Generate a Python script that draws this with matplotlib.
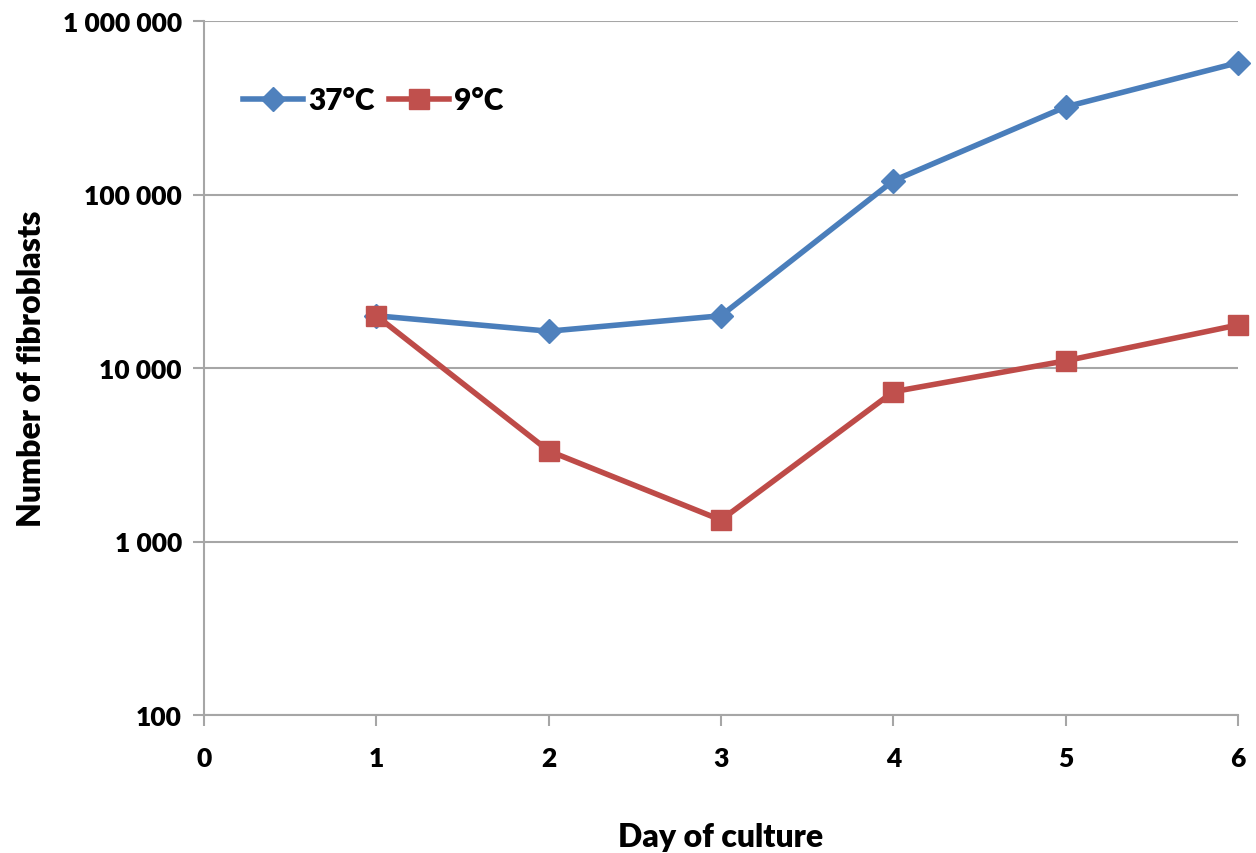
import numpy as np
import matplotlib
matplotlib.use("Agg")
import matplotlib.pyplot as plt
from matplotlib.ticker import FixedLocator, FuncFormatter

plt.rcParams['font.family'] = ['Lato', 'DejaVu Sans']
W = 'heavy'

# --- data ---
days = [1, 2, 3, 4, 5, 6]
cells_37 = [20000, 16300, 20000, 120000, 320000, 575000]
cells_9 = [20000, 3330, 1330, 7300, 11000, 17700]
series_labels = ['37°C', '9°C']
x_ticks = [0, 1, 2, 3, 4, 5, 6]
y_ticks = [100, 1000, 10000, 100000, 1000000]

blue = '#4A7EBB'
red = '#BE4B48'
grid_col = '#A6A6A6'

fig = plt.figure(figsize=(12.56, 8.54), dpi=100)
ax = fig.add_axes([204 / 1256, 1 - 716 / 854, (1238 - 204) / 1256, (716 - 22) / 854])

ax.plot(days, cells_37, color=blue, lw=4, marker='D', ms=12,
        mfc='#4F81BD', mec='#4F81BD', label=series_labels[0], clip_on=False, zorder=3)
ax.plot(days, cells_9, color=red, lw=4, marker='s', ms=15,
        mfc='#C0504D', mec='#C0504D', label=series_labels[1], clip_on=False, zorder=3)

ax.set_yscale('log')
ax.set_xlim(0, 6)
ax.set_ylim(100, 1000000)
ax.xaxis.set_major_locator(FixedLocator(x_ticks))
ax.yaxis.set_major_locator(FixedLocator(y_ticks))
ax.yaxis.set_minor_locator(FixedLocator([]))
ax.yaxis.set_major_formatter(FuncFormatter(lambda v, p: f"{int(round(v)):,}".replace(',', ' ')))

ax.grid(axis='y', color=grid_col, lw=1.5)
ax.set_axisbelow(True)
for s in ['top', 'right']:
    ax.spines[s].set_visible(False)
for s in ['left', 'bottom']:
    ax.spines[s].set_color(grid_col)
    ax.spines[s].set_linewidth(1.5)
ax.tick_params(axis='both', direction='out', length=8, width=1.5, color=grid_col,
               labelsize=19)
ax.tick_params(axis='x', pad=14)
ax.tick_params(axis='y', pad=8)
for lab in ax.get_xticklabels() + ax.get_yticklabels():
    lab.set_fontweight(W)

ax.set_xlabel('Day of culture', fontsize=23, fontweight=W, labelpad=38)
ax.set_ylabel('Number of fibroblasts', fontsize=23, fontweight=W, labelpad=12)

leg = ax.legend(loc='upper left', bbox_to_anchor=(0.012, 0.945), ncol=2, frameon=False,
                handlelength=2.0, handletextpad=0.17, columnspacing=0.5,
                prop={'weight': W, 'size': 21.5})

fig.savefig('out.png', dpi=100)
